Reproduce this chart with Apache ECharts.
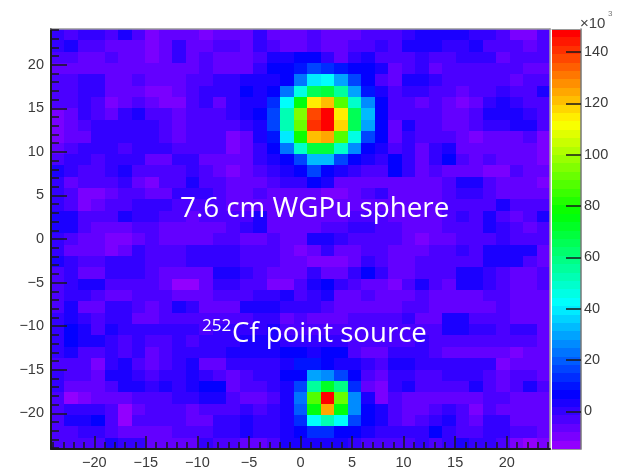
<!DOCTYPE html>
<html><head><meta charset="utf-8">
<style>html,body{margin:0;padding:0;background:#fff}#c{width:617px;height:470px;filter:blur(0.55px)}</style>
<script src="https://cdn.jsdelivr.net/npm/echarts@6/dist/echarts.min.js"></script>
</head><body><div id="c"></div><script>
const xHalf=24.2, yHalf=24.1, binCount=37;
const xMajor=[-20,-15,-10,-5,0,5,10,15,20];
const yMajor=[-20,-15,-10,-5,0,5,10,15,20];
const minorTicks=[-24,-23,-22,-21,-19,-18,-17,-16,-14,-13,-12,-11,-9,-8,-7,-6,-4,-3,-2,-1,1,2,3,4,6,7,8,9,11,12,13,14,16,17,18,19,21,22,23,24];
const barTicks=[0,20,40,60,80,100,120,140];
const barMin=-14.7, barMax=149, paletteSize=50;
const row00=[-1,-2,1,1,-3,3,-2,-9,-7,-5,-6,-10,-8,-8,-5,-1,-7,-8,-7,-4,-6,-7,-7,-4,-2,-2,0,2,3,2,3,1,-1,-2,-9,-9,-2];
const row01=[-1,2,-2,-2,-6,-6,-5,-9,-6,-1,-5,-6,-3,-3,-5,-1,-4,-5,-5,-4,-6,-6,-2,-3,-1,-2,3,4,4,1,0,3,-3,-4,-4,-5,-3];
const row02=[-2,-2,-6,-6,-2,-5,-5,-9,-6,-1,-5,-2,-7,-6,-5,-3,3,3,6,6,0,-5,0,4,-2,-3,-2,-1,-2,-4,0,0,-1,-6,-4,-3,-3];
const row03=[-6,-6,-6,-6,-6,-6,-6,-6,-6,-6,-5,-3,-7,-5,-5,1,5,6,10,17,14,10,6,6,2,-7,-2,0,-5,-4,-2,-2,-2,-3,-2,-6,-5];
const row04=[-3,-4,0,0,-8,-8,-3,-8,-8,-5,-2,-2,1,0,4,2,4,8,24,40,41,30,17,7,-3,-6,3,3,1,-3,-3,-2,-2,-2,-5,-4,-3];
const row05=[-2,-4,0,0,-8,-8,-6,-11,-11,-8,-2,1,1,1,5,3,7,22,46,66,70,57,30,10,3,-2,-1,0,-3,-4,-8,-4,-2,-1,-3,-2,2];
const row06=[-2,-4,0,-3,-11,-7,-3,-7,-11,-11,-2,-1,-6,0,4,3,14,42,76,113,122,88,50,25,6,-2,-2,-5,-4,-7,-10,-8,0,4,-1,-4,-3];
const row07=[-9,-5,0,-3,-8,0,4,-3,-4,-8,-2,-2,-3,1,3,5,18,53,95,139,146,113,64,33,7,-3,-2,-2,-3,-8,-6,-4,3,3,2,-1,-2];
const row08=[-9,-8,-4,0,0,0,0,0,-2,-8,-3,-2,-3,-2,1,3,17,52,93,142,147,118,66,30,7,-7,3,-2,-3,-5,-5,-3,0,1,3,2,-4];
const row09=[-9,-8,-5,0,0,0,0,0,-3,-8,-3,-3,-3,-9,-6,2,10,40,78,122,125,87,47,18,6,-6,0,-2,-2,-3,-6,-11,-7,-5,-6,-4,-9];
const row10=[-7,-4,0,0,0,-4,0,0,0,-3,-3,-3,-3,-9,-6,-1,6,22,48,68,69,49,26,7,3,-2,-1,-5,1,4,-6,-8,-7,-6,-6,-5,-9];
const row11=[-2,-1,0,-3,0,-1,-1,-5,-5,-1,0,-5,-6,-7,-6,1,3,7,17,33,32,15,6,3,0,5,1,-5,0,6,-4,-5,-4,-6,-5,-5,-9];
const row12=[2,0,-4,-4,-1,3,-3,-4,-2,-2,0,-3,-6,-9,-6,-2,-1,3,6,15,7,3,0,-2,-2,5,-1,-6,-3,-5,-5,-5,-9,-9,-3,-5,-7];
const row13=[-1,-6,-4,-3,-2,-1,-6,-9,-3,-2,2,-2,-4,-6,-6,-5,-3,-1,0,5,3,-6,-6,-6,-5,-5,-7,-7,-5,-3,3,3,-3,-6,-6,-6,-9];
const row14=[-1,-2,-10,-10,-7,-3,-3,-5,-5,1,1,0,-3,-7,-5,-4,-6,-6,-6,-6,-10,-10,-8,-4,-1,-5,-7,-7,-6,-3,1,1,-4,-5,-7,-6,-6];
const row15=[-1,-3,-9,-7,-4,-2,1,1,-1,-3,-3,-2,-2,-5,-5,-5,-5,-6,-6,-7,-8,-7,-6,-7,-5,-6,-6,-7,-6,-3,-3,-3,-2,2,-2,-2,-2];
const row16=[3,3,-2,-2,-2,3,1,0,-3,-4,-5,-4,-2,-2,-4,2,-6,-6,-6,-6,-5,-5,-2,-2,-4,-5,-8,-7,-6,-3,-1,-2,2,-2,-5,-2,3];
const row17=[3,3,-4,-6,-7,-7,-2,-2,-5,-5,-5,-5,-5,-3,-1,3,-7,-7,-6,-6,-4,-4,0,-1,-3,-4,-7,-8,-6,-2,-3,-2,2,-1,-4,-5,-2];
const row18=[1,-2,-5,-5,-10,-10,-5,-4,-6,-5,-6,-6,-3,-4,-6,-6,-4,-6,-5,2,3,0,-2,-2,-3,-4,-8,-10,-8,-5,-3,-4,-2,-1,-3,-4,-3];
const row19=[1,-5,-5,-5,-9,-6,-1,-4,-3,-3,0,0,0,0,-2,-2,-2,-8,-9,-6,0,-6,-7,-3,-3,-5,-5,-8,-4,-3,0,-2,3,3,3,2,-5];
const row20=[2,0,-4,-4,1,1,1,-4,-4,-3,0,0,0,0,-2,-2,-2,-7,-8,-9,-9,-9,-5,0,-2,-7,-7,-4,-3,-4,-2,-2,3,4,3,-2,-7];
const row21=[-2,0,-5,-5,1,1,1,-3,-7,-7,-7,-7,2,4,0,-2,-6,-6,-5,-1,-6,-6,1,5,-1,-5,-5,-3,-3,-4,2,2,-1,-2,-7,-7,-3];
const row22=[-2,0,4,2,-4,-4,-4,-4,-7,-13,-13,-7,0,0,-3,-3,-9,-9,-3,4,7,0,-4,-6,-6,-9,-4,2,-4,-5,2,2,-1,-2,-7,-7,-3];
const row23=[-2,0,0,-3,-5,-5,-4,-4,-4,-5,-5,-5,-3,-2,-3,1,1,2,-3,1,3,-6,-6,-4,-6,-7,-7,-3,-6,-6,-6,-5,-4,-3,-6,-6,-6];
const row24=[-2,3,-6,-5,1,1,-4,-8,-4,3,0,-7,-7,-5,2,3,3,1,0,0,-4,-6,-5,-5,-6,-5,-3,-2,-8,-8,-8,-7,-7,-3,-7,-5,-5];
const row25=[0,4,1,-2,1,1,-8,-8,-3,-2,-2,-3,-2,-3,-2,1,1,-7,-2,-5,-6,-6,-3,-3,-3,-4,-1,-6,-7,2,2,-2,-2,-3,-5,-5,-5];
const row26=[1,6,3,-2,3,1,1,0,0,0,0,-3,0,0,0,1,2,-3,-3,-2,-2,-3,-3,-2,-2,-2,-2,-3,-3,4,4,-1,1,-2,1,1,-5];
const row27=[1,6,2,2,0,-3,1,-4,-3,1,-3,0,1,1,2,3,3,0,0,0,0,-1,-2,-3,-3,-2,-2,-1,-3,-3,-3,-3,-3,-4,-3,-3,-6];
const row28=[-1,2,-3,-3,0,-2,-1,-7,-2,1,1,1,1,2,3,3,3,5,6,3,6,5,-2,-6,-5,0,0,0,-2,-6,-6,-5,-5,-5,-9,-5,-7];
const row29=[-2,-2,-3,-9,0,3,-2,-8,-3,1,4,-5,-5,0,0,1,1,3,9,11,6,4,2,1,-4,2,2,1,1,-1,-1,-1,0,-9,-5,-5,-7];
const row30=[-1,-3,-4,-8,2,4,1,-3,-1,1,4,0,-3,-5,-4,-1,1,6,7,28,27,15,6,-3,-6,1,1,-3,-3,0,0,-1,-2,-8,-4,-3,-5];
const row31=[-1,-7,-7,-8,-2,3,2,1,2,1,4,7,5,-8,-2,-3,1,4,18,56,72,58,14,-7,-11,0,2,-3,-2,-3,-3,3,-4,-5,-3,3,-3];
const row32=[-3,-12,-11,-7,-7,-8,-2,-2,-2,-1,1,4,3,-4,-5,-5,-2,2,22,88,146,92,27,3,-11,-3,-5,-6,-5,-7,-7,-5,-3,-3,-6,-6,-8];
const row33=[-2,-1,1,-1,-4,-12,-6,-2,-2,-2,-7,-3,-3,-2,-1,-2,-1,3,20,75,125,74,27,7,2,-2,-8,-8,-2,-1,-3,-11,-4,-5,-7,-7,-7];
const row34=[-2,2,4,6,-3,-12,-3,-3,-3,-3,-6,-6,-1,-1,4,0,-1,3,13,42,54,43,16,6,2,-2,-5,-3,0,4,-3,-7,1,1,-5,-5,-5];
const row35=[-2,-2,1,1,-4,-5,-5,-7,-7,-3,-3,-2,-1,-1,2,1,-1,2,5,12,12,8,6,4,1,0,0,0,5,0,-2,-2,1,1,-4,-4,-5];
const row36=[-3,-3,-2,-2,2,1,1,-5,-6,-5,-5,1,-2,-2,-5,-7,-2,2,3,4,3,3,0,-2,-3,-3,-3,-1,-2,0,2,-1,-1,-2,-9,-12,-11];
const rows=[row00,row01,row02,row03,row04,row05,row06,row07,row08,row09,row10,row11,row12,row13,row14,row15,row16,row17,row18,row19,row20,row21,row22,row23,row24,row25,row26,row27,row28,row29,row30,row31,row32,row33,row34,row35,row36];

function paletteColor(i){return 'hsl('+(280-(i+1)*280/paletteSize)+',100%,50%)';}
const levelWidth=(barMax-barMin)/paletteSize;
function colorOf(v){return paletteColor(Math.max(0,Math.min(paletteSize-1,Math.floor((v-barMin)/levelWidth))));}

const xBin=2*xHalf/binCount, yBin=2*yHalf/binCount;
const cells=[];
rows.forEach((r,ri)=>r.forEach((v,ci)=>{
  const x0=-xHalf+ci*xBin, y1=yHalf-ri*yBin;
  cells.push([x0,x0+xBin,y1-yBin,y1,v]);
}));
const levels=[];
for(let i=0;i<paletteSize;i++)levels.push([0,1,barMin+i*levelWidth,barMin+(i+1)*levelWidth,i]);

const tickFont={fontFamily:'Liberation Sans',fontSize:14.5,color:'#3a3a3a'};
const fmt=v=>String(v).replace('-','\u2212');
const dark='#1a1a1a', frame='#9a9a9a';
const rectRender=(colorFn)=>function(params,api){
  const a=api.coord([api.value(0),api.value(2)]), b=api.coord([api.value(1),api.value(3)]);
  const x=Math.round(a[0]), y=Math.round(b[1]);
  return {type:'rect',shape:{x:x,y:y,width:Math.round(b[0])-x,height:Math.round(a[1])-y},
    style:{fill:colorFn(api.value(4))}};
};
const xBase={type:'value',gridIndex:0,min:-xHalf,max:xHalf,z:5,splitLine:{show:false}};
const yBase={type:'value',gridIndex:0,min:-yHalf,max:yHalf,z:5,splitLine:{show:false}};

const option={
  animation:false,
  backgroundColor:'#fff',
  grid:[
    {left:51,top:29,width:499,height:420,containLabel:false},
    {left:552,top:29,width:29,height:420,containLabel:false}
  ],
  xAxis:[
    Object.assign({},xBase,{position:'bottom',
      axisLine:{show:true,onZero:false,lineStyle:{color:dark,width:2}},
      axisTick:{show:true,inside:true,length:13,customValues:xMajor,lineStyle:{color:dark,width:1.5}},
      axisLabel:Object.assign({show:true,margin:6,customValues:xMajor,formatter:fmt},tickFont)}),
    Object.assign({},xBase,{position:'bottom',
      axisLine:{show:false,onZero:false},
      axisTick:{show:true,inside:true,length:7,customValues:minorTicks,lineStyle:{color:dark,width:1.5}},
      axisLabel:{show:false}}),
    Object.assign({},xBase,{position:'top',
      axisLine:{show:true,onZero:false,lineStyle:{color:frame,width:1.5}},
      axisTick:{show:false},axisLabel:{show:false}}),
    {type:'value',gridIndex:1,min:0,max:1,position:'bottom',z:5,splitLine:{show:false},
      axisLine:{show:true,onZero:false,lineStyle:{color:frame,width:1}},axisTick:{show:false},axisLabel:{show:false}},
    {type:'value',gridIndex:1,min:0,max:1,position:'top',z:5,splitLine:{show:false},
      axisLine:{show:true,onZero:false,lineStyle:{color:frame,width:1}},axisTick:{show:false},axisLabel:{show:false}}
  ],
  yAxis:[
    Object.assign({},yBase,{position:'left',
      axisLine:{show:true,onZero:false,lineStyle:{color:dark,width:2}},
      axisTick:{show:true,inside:true,length:16,customValues:yMajor,lineStyle:{color:dark,width:1.5}},
      axisLabel:Object.assign({show:true,margin:7,customValues:yMajor,formatter:fmt},tickFont)}),
    Object.assign({},yBase,{position:'left',
      axisLine:{show:false,onZero:false},
      axisTick:{show:true,inside:true,length:8,customValues:minorTicks,lineStyle:{color:dark,width:1.5}},
      axisLabel:{show:false}}),
    Object.assign({},yBase,{position:'right',
      axisLine:{show:true,onZero:false,lineStyle:{color:frame,width:1.5}},
      axisTick:{show:false},axisLabel:{show:false}}),
    {type:'value',gridIndex:1,min:barMin,max:barMax,position:'right',z:5,splitLine:{show:false},
      axisLine:{show:true,onZero:false,lineStyle:{color:'#777',width:1.5}},
      axisTick:{show:true,inside:true,length:15,customValues:barTicks,lineStyle:{color:dark,width:1.5}},
      axisLabel:Object.assign({show:true,margin:3,customValues:barTicks},tickFont)}
  ],
  series:[
    {type:'custom',silent:true,xAxisIndex:0,yAxisIndex:0,data:cells,encode:{x:[0,1],y:[2,3]},
      renderItem:rectRender(colorOf)},
    {type:'custom',silent:true,xAxisIndex:3,yAxisIndex:3,data:levels,encode:{x:[0,1],y:[2,3]},
      renderItem:rectRender(paletteColor)}
  ],
  graphic:[
    {type:'text',left:180,top:195,z:50,style:{text:'7.6 cm WGPu sphere',fill:'#fff',font:'27.8px "Open Sans"'}},
    {type:'text',left:202,top:318,z:50,style:{text:'252',fill:'#fff',font:'17px "Open Sans"'}},
    {type:'text',left:232,top:320,z:50,style:{text:'Cf point source',fill:'#fff',font:'27.6px "Open Sans"'}},
    {type:'text',left:580,top:16,z:50,style:{text:'\u00d710',fill:'#444',font:'15px "Liberation Sans"'}},
    {type:'text',left:608,top:10,z:50,style:{text:'3',fill:'#777',font:'8px "Liberation Sans"'}}
  ]
};
echarts.init(document.getElementById('c'),null,{renderer:'canvas'}).setOption(option);
</script></body></html>
